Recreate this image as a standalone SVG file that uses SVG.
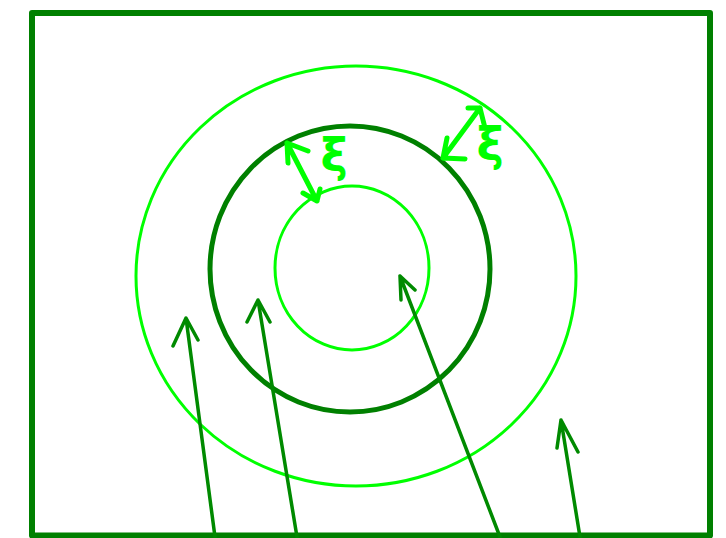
<svg xmlns="http://www.w3.org/2000/svg" width="726" height="538" viewBox="0 0 726 538">
<style>
.frame{fill:none;stroke:#008000;stroke-width:6;stroke-linejoin:round}
.lime{fill:none;stroke:#00ff00;stroke-width:3}
.dark{fill:none;stroke:#008000;stroke-width:5}
.arr{fill:none;stroke:#008a00;stroke-width:3.5;stroke-linecap:round;stroke-linejoin:round}
.xi{fill:none;stroke:#00ff00;stroke-width:5;stroke-linecap:round;stroke-linejoin:round}
.lbl{fill:#00ff00;font-family:"DejaVu Sans",sans-serif;font-size:46px;font-weight:bold;text-anchor:middle}
</style>
<rect width="726" height="538" fill="#ffffff"/>
<g id="frame"><rect class="frame" x="32" y="13" width="678" height="522.5"/></g>
<g id="outer-circle"><ellipse class="lime" cx="356" cy="276" rx="220" ry="210"/></g>
<g id="middle-circle"><ellipse class="dark" cx="350" cy="269" rx="140" ry="143"/></g>
<g id="inner-circle"><ellipse class="lime" cx="352" cy="268" rx="77" ry="82"/></g>
<g id="connectors">
<path class="arr" d="M215,537 L186,318 M173,346 L186,318 L198,340"/>
<path class="arr" d="M297,537 L258,300 M247,322 L258,300 L270,322"/>
<path class="arr" d="M500,537 L400,276 M401,300 L400,276 L415,290"/>
<path class="arr" d="M580,537 L561,420 M557,448 L561,420 L578,452"/>
<path class="xi" d="M287,143 L317,201 M308,151 L287,143 L288,163 M303,193 L317,201 L320,189"/>
<path class="xi" d="M443,158 L480,108 M468,108 L480,108 L485,128 M447,138 L443,158 L465,159"/>
</g>
<g id="labels">
<text class="lbl" x="334" y="171">ξ</text>
<text class="lbl" x="490" y="160">ξ</text>
</g>
</svg>
